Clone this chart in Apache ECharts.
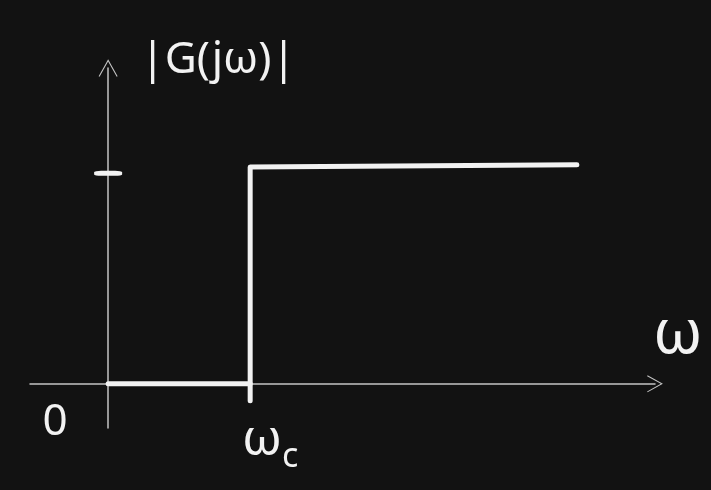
<!DOCTYPE html>
<html>
<head>
<meta charset="utf-8">
<script src="https://cdn.jsdelivr.net/npm/echarts@6/dist/echarts.min.js"></script>
<style>
  html, body { margin: 0; padding: 0; background: #121212; }
  #main { width: 711px; height: 490px; }
</style>
</head>
<body>
<div id="main"></div>
<script>
// ideal high-pass: 0 below cutoff, 1 above
var lowX = [0, 1];
var lowY = [0, 0];
var highX = [1, 1, 3.3];
var highY = [-0.08, 1.03, 1.04];
var xTicks = [0, 1];
var xTickNames = ['0', 'ωc'];
var yTicks = [1];

var ink = '#f2f2f2';
var axisInk = '#c4c4c4';
var hand = '"Noto Sans", sans-serif';
var chevron = 'path://M0,0 L10,18 L9,18.6 L0,2.5 L-9,18.6 L-10,18 Z';

function pairs(xs, ys) {
    return xs.map(function (x, i) { return [x, ys[i]]; });
}

var option = {
    backgroundColor: '#121212',
    animation: false,
    grid: {
        left: 30,
        right: 56,
        top: 68,
        bottom: 62,
        outerBoundsMode: 'none',
        containLabel: false
    },
    xAxis: {
        type: 'value',
        min: -0.55,
        max: 3.85,
        name: '{n|ω}',
        nameLocation: 'end',
        nameGap: -2,
        nameTextStyle: {
            rich: {
                n: { color: ink, fontFamily: hand, fontSize: 62, padding: [0, 0, 96, 0] }
            }
        },
        axisLine: {
            onZero: true,
            symbol: ['none', chevron],
            symbolSize: [17, 18],
            lineStyle: { color: axisInk, width: 1.5 }
        },
        axisTick: { show: false },
        splitLine: { show: false },
        axisLabel: {
            customValues: xTicks,
            margin: -28,
            formatter: function (v) {
                if (v === 0) return '{z|' + xTickNames[0] + '}';
                return '{w|ω}{s|c}';
            },
            rich: {
                z: { color: ink, fontFamily: hand, fontSize: 44, padding: [0, 106, 0, 0] },
                w: { color: ink, fontFamily: hand, fontSize: 50, padding: [8, 0, 0, 40] },
                s: { color: ink, fontFamily: hand, fontSize: 34, padding: [40, 0, 0, 0] }
            }
        }
    },
    yAxis: {
        type: 'value',
        min: -0.21,
        max: 1.5,
        name: '|G(jω)|',
        nameLocation: 'end',
        nameGap: -14,
        nameTextStyle: {
            color: ink,
            fontFamily: hand,
            fontSize: 44,
            padding: [0, 0, 0, 220]
        },
        axisLine: {
            onZero: true,
            symbol: ['none', chevron],
            symbolSize: [19, 26],
            lineStyle: { color: axisInk, width: 1.5 }
        },
        axisTick: { show: false },
        splitLine: { show: false },
        axisLabel: { show: false }
    },
    series: [
        {
            type: 'line',
            data: pairs(lowX, lowY),
            symbol: 'none',
            lineStyle: { color: ink, width: 5, cap: 'round', join: 'round' }
        },
        {
            type: 'line',
            data: pairs(highX, highY),
            symbol: 'none',
            lineStyle: { color: ink, width: 5, cap: 'round', join: 'round' }
        },
        {
            // the tick mark on the vertical axis
            type: 'scatter',
            data: yTicks.map(function (y) { return [0, y]; }),
            symbol: 'roundRect',
            symbolSize: [28, 5],
            itemStyle: { color: ink, opacity: 1 }
        }
    ]
};

echarts.init(document.getElementById('main')).setOption(option);
</script>
</body>
</html>
